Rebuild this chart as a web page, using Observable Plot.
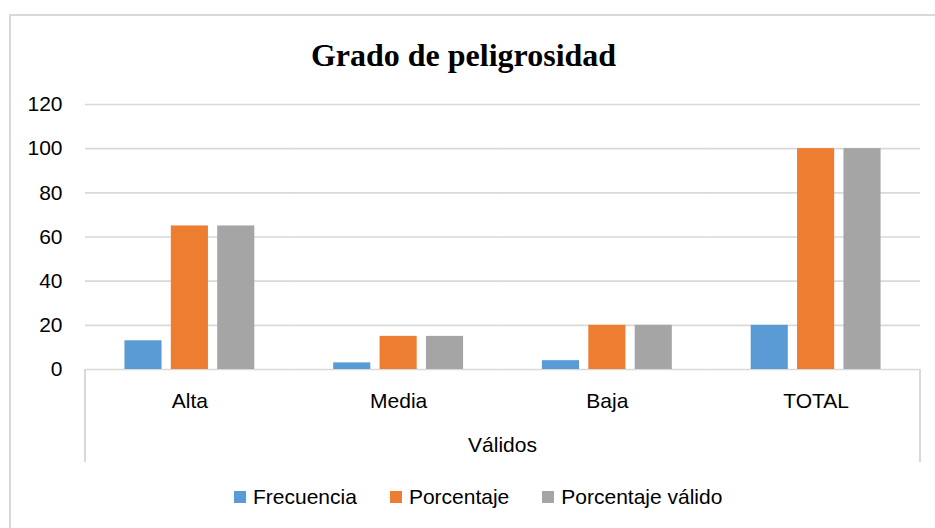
<!DOCTYPE html>
<html>
<head>
<meta charset="utf-8">
<script src="https://cdn.jsdelivr.net/npm/d3@7"></script>
<script src="https://cdn.jsdelivr.net/npm/@observablehq/plot@0.6"></script>
<style>
  html, body { margin: 0; padding: 0; background: #fff; overflow: hidden; }
  #wrap { position: relative; width: 935px; height: 528px; overflow: hidden; background: #fff; }
  #border { position: absolute; left: 9px; top: 14px; width: 960px; height: 560px;
            border-left: 2px solid #d9d9d9; border-top: 2px solid #d9d9d9; box-sizing: border-box; }
  #title { position: absolute; left: 0; top: 37px; width: 927px; text-align: center;
           font-family: "Liberation Serif", "Times New Roman", serif; font-weight: bold; font-size: 32px;
           line-height: normal; color: #000; }
  #chart { position: absolute; left: 0; top: 0; }
  .vline { position: absolute; width: 2px; background: #d9d9d9; top: 369px; height: 93px; }
  #xlabel { position: absolute; left: 85px; width: 835px; top: 433px; text-align: center;
            font-family: "Liberation Sans", Arial, sans-serif; font-size: 21px; color: #000; }
  #legend { position: absolute; left: 234px; top: 480px; }
  #legend .lg-swatch { margin-right: 33px !important; color: #000; }
  #legend .lg-swatch svg { margin-right: 7px !important; }
</style>
</head>
<body>
<div id="wrap">
  <div id="border"></div>
  <div id="chart"></div>
  <div class="vline" style="left:84px"></div>
  <div class="vline" style="left:919px"></div>
  <div id="title"></div>
  <div id="xlabel"></div>
  <div id="legend"></div>
</div>
<script>
const titleText = "Grado de peligrosidad";
const groupLabel = "Válidos";
const categories = ["Alta", "Media", "Baja", "TOTAL"];
const series = ["Frecuencia", "Porcentaje", "Porcentaje válido"];
const frecuencia = [13, 3, 4, 20];
const porcentaje = [65, 15, 20, 100];
const porcentajeValido = [65, 15, 20, 100];
const yTicks = [0, 20, 40, 60, 80, 100, 120];
const colors = ["#5b9bd5", "#ed7d31", "#a5a5a5"];

const valuesBySeries = [frecuencia, porcentaje, porcentajeValido];
const rows = [];
categories.forEach((c, i) => {
  series.forEach((s, j) => rows.push({category: c, series: s, value: valuesBySeries[j][i]}));
});

document.getElementById("title").textContent = titleText;
document.getElementById("xlabel").textContent = groupLabel;

const chart = Plot.plot({
  width: 935,
  height: 528,
  marginTop: 104,
  marginBottom: 159,
  marginLeft: 85,
  marginRight: 15,
  style: {fontFamily: "Liberation Sans, Arial, sans-serif", fontSize: "21px", background: "transparent", color: "#000", overflow: "visible"},
  fx: {domain: categories, paddingInner: 0, paddingOuter: 0, round: false, label: null},
  x: {domain: series, paddingInner: 0.2, paddingOuter: 0.85, round: false, axis: null},
  y: {domain: [0, 120], label: null},
  color: {domain: series, range: colors},
  marks: [
    Plot.gridY(yTicks, {stroke: "#d9d9d9", strokeOpacity: 1, strokeWidth: 1.6}),
    Plot.barY(rows, {fx: "category", x: "series", y: "value", fill: "series"}),
    Plot.axisY(yTicks, {tickSize: 0, tickPadding: 23, fontSize: 21, label: null, fill: "#000"}),
    Plot.axisFx({anchor: "bottom", tickSize: 0, tickPadding: 24, fontSize: 21, label: null, fill: "#000"})
  ]
});
document.getElementById("chart").appendChild(chart);

const legend = Plot.legend({
  color: {domain: series, range: colors},
  legend: "swatches",
  swatchSize: 12,
  className: "lg",
  style: {fontFamily: "Liberation Sans, Arial, sans-serif", fontSize: "21px", color: "#000"}
});
document.getElementById("legend").appendChild(legend);
</script>
</body>
</html>
